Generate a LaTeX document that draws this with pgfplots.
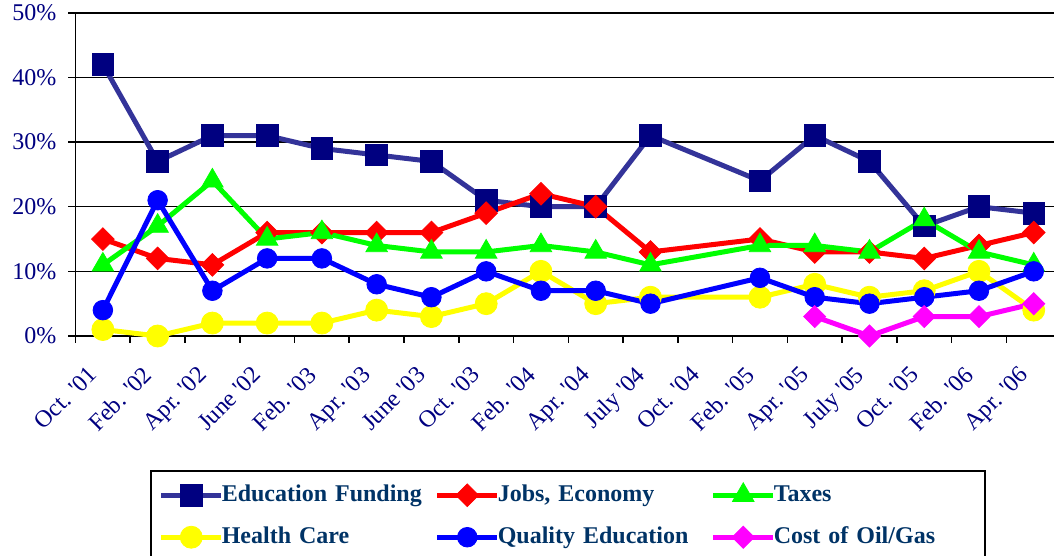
\documentclass[border=0pt]{standalone}
\usepackage{fontspec}
\setmainfont{Liberation Serif}
\usepackage{pgfplots}
\pgfplotsset{compat=1.18}
\definecolor{navy}{RGB}{0,0,128}
\definecolor{efline}{RGB}{51,51,153}
\definecolor{legtext}{RGB}{0,51,102}
\definecolor{tgreen}{RGB}{0,255,0}
\definecolor{hyellow}{RGB}{255,255,0}
\definecolor{qblue}{RGB}{0,0,255}
\definecolor{omag}{RGB}{255,0,255}
\begin{document}
\begin{tikzpicture}
\useasboundingbox (-37.75pt,-110pt) rectangle (489.25pt,168pt);
\begin{axis}[
  at={(0pt,0pt)}, anchor=south west,
  scale only axis, width=489.25pt, height=161.65pt,
  xmin=-0.5, xmax=17.37, ymin=0, ymax=50,
  clip=false,
  axis x line*=bottom, axis y line*=left,
  axis line style={black, line width=0.8pt},
  ytick={0,10,20,30,40,50},
  ymajorgrids, grid style={black, line width=0.8pt},
  /pgf/number format/assume math mode=true,
  yticklabel={\pgfmathprintnumber{\tick}\%},
  yticklabel style={font=\fontsize{12}{14}\selectfont, text=navy, xshift=-2.5pt},
  xtick={0,1,...,17},
  xticklabels={Oct. \textquotesingle01, Feb. \textquotesingle02, Apr. \textquotesingle02, June \textquotesingle02, Feb. \textquotesingle03, Apr. \textquotesingle03, June \textquotesingle03, Oct. \textquotesingle03, Feb. \textquotesingle04, Apr. \textquotesingle04, July \textquotesingle04, Oct. \textquotesingle04, Feb. \textquotesingle05, Apr. \textquotesingle05, July \textquotesingle05, Oct. \textquotesingle05, Feb. \textquotesingle06, Apr. \textquotesingle06},
  xticklabel style={font=\fontsize{12}{14}\selectfont, text=navy, xshift=-8pt, yshift=-6pt, rotate=45, anchor=north east},
  minor xtick={-0.5,0.5,...,17.5},
  tick align=outside,
  major tick length=3.5pt, minor tick length=3.5pt,
  tick style={black, line width=0.8pt},
  major x tick style={draw=none},
  every axis plot/.append style={line width=2.5pt},
  legend columns=3,
  legend image code/.code={\draw[mark repeat=2,mark phase=2] plot coordinates {(0pt,0pt) (15pt,0pt) (30pt,0pt)};},
  legend style={at={(0.0761,-0.4145)}, anchor=north west, draw=black, line width=0.8pt,
    font=\fontsize{12}{14}\selectfont\bfseries, text=legtext,
    inner xsep=4pt, inner ysep=6pt, row sep=9pt,
    nodes={inner xsep=0.5pt, inner ysep=0pt, text width=101pt, align=left, text height=9pt, text depth=3pt},
    /tikz/every odd column/.append style={column sep=-1.5pt},
    /tikz/every even column/.append style={column sep=5pt}},
]
\addplot[efline, mark=square*, mark size=5.4pt, mark options={fill=navy, draw=navy, line width=0.4pt}] coordinates {
(0,42) (1,27) (2,31) (3,31) (4,29) (5,28) (6,27) (7,21) (8,20) (9,20) (10,31) (12,24) (13,31) (14,27) (15,17) (16,20) (17,19)};
\addlegendentry{Education Funding}
\addplot[red, mark=square*, mark size=4.0pt, mark options={fill=red, draw=red, line width=0.4pt, rotate=45}] coordinates {
(0,15) (1,12) (2,11) (3,16) (4,16) (5,16) (6,16) (7,19) (8,22) (9,20) (10,13) (12,15) (13,13) (14,13) (15,12) (16,14) (17,16)};
\addlegendentry{Jobs, Economy}
\addplot[tgreen, mark=triangle*, mark size=6.2pt, mark options={fill=tgreen, draw=tgreen, line width=0.4pt}] coordinates {
(0,11) (1,17) (2,24) (3,15) (4,16) (5,14) (6,13) (7,13) (8,14) (9,13) (10,11) (12,14) (13,14) (14,13) (15,18) (16,13) (17,11)};
\addlegendentry{Taxes}
\addplot[hyellow, mark=*, mark size=5.5pt, mark options={fill=hyellow, draw=hyellow, line width=0.4pt}] coordinates {
(0,1) (1,0) (2,2) (3,2) (4,2) (5,4) (6,3) (7,5) (8,10) (9,5) (10,6) (12,6) (13,8) (14,6) (15,7) (16,10) (17,4)};
\addlegendentry{Health Care}
\addplot[qblue, mark=*, mark size=4.9pt, mark options={fill=qblue, draw=qblue, line width=0.4pt}] coordinates {
(0,4) (1,21) (2,7) (3,12) (4,12) (5,8) (6,6) (7,10) (8,7) (9,7) (10,5) (12,9) (13,6) (14,5) (15,6) (16,7) (17,10)};
\addlegendentry{Quality Education}
\addplot[omag, mark=square*, mark size=3.9pt, mark options={fill=omag, draw=omag, line width=0.4pt, rotate=45}] coordinates {
(13,3) (14,0) (15,3) (16,3) (17,5)};
\addlegendentry{Cost of Oil/Gas}
\end{axis}
\end{tikzpicture}
\end{document}
